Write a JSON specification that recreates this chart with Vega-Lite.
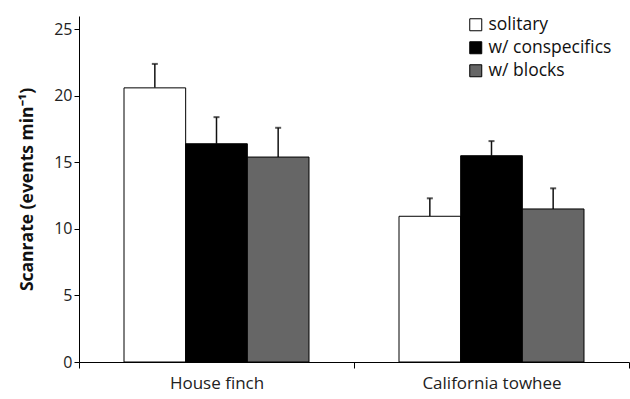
{
  "$schema": "https://vega.github.io/schema/vega-lite/v6.json",
  "autosize": {"type": "none"},
  "width": 550,
  "height": 346,
  "padding": {"left": 79, "top": 16, "right": 1, "bottom": 37},
  "config": {
    "font": "Open Sans",
    "view": {"stroke": null},
    "axis": {"labelColor": "#222", "titleColor": "#111", "domainColor": "#000", "tickColor": "#000", "grid": false}
  },
  "data": {
    "values": [
      {"species": "House finch", "condition": "solitary", "mean": 20.6, "upper": 22.4},
      {"species": "House finch", "condition": "w/ conspecifics", "mean": 16.4, "upper": 18.4},
      {"species": "House finch", "condition": "w/ blocks", "mean": 15.4, "upper": 17.6},
      {"species": "California towhee", "condition": "solitary", "mean": 10.95, "upper": 12.3},
      {"species": "California towhee", "condition": "w/ conspecifics", "mean": 15.5, "upper": 16.6},
      {"species": "California towhee", "condition": "w/ blocks", "mean": 11.5, "upper": 13.05}
    ]
  },
  "encoding": {
    "x": {
      "field": "species", "type": "nominal", "sort": ["House finch", "California towhee"],
      "scale": {"paddingInner": 0, "paddingOuter": 0},
      "axis": {"title": null, "labelAngle": 0, "labelFontSize": 17, "labelPadding": 7, "tickBand": "extent", "tickSize": 6, "domainWidth": 1}
    },
    "xOffset": {
      "field": "condition", "type": "nominal", "sort": ["solitary", "w/ conspecifics", "w/ blocks"],
      "scale": {"paddingInner": 0, "paddingOuter": 0.73}
    }
  },
  "layer": [
    {
      "mark": {"type": "rule", "strokeWidth": 1.5, "color": "#111"},
      "encoding": {
        "y": {"field": "mean", "type": "quantitative"},
        "y2": {"field": "upper"}
      }
    },
    {
      "mark": {"type": "tick", "orient": "horizontal", "size": 6, "thickness": 2, "color": "#111"},
      "encoding": {
        "y": {"field": "upper", "type": "quantitative"}
      }
    },
    {
      "mark": {"type": "bar", "stroke": "#000", "strokeWidth": 1},
      "encoding": {
        "y": {
          "field": "mean", "type": "quantitative",
          "scale": {"domain": [0, 25]},
          "axis": {"values": [0, 5, 10, 15, 20, 25], "title": "Scanrate (events min⁻¹)", "titleFontSize": 17.5, "titleFontWeight": "bold", "titlePadding": 17, "labelFontSize": 16, "tickSize": 5, "labelPadding": 2}
        },
        "fill": {
          "field": "condition", "type": "nominal",
          "sort": ["solitary", "w/ conspecifics", "w/ blocks"],
          "scale": {"domain": ["solitary", "w/ conspecifics", "w/ blocks"], "range": ["#ffffff", "#000000", "#666666"]},
          "legend": {"title": null, "orient": "none", "legendX": 388, "legendY": 0, "symbolType": "square", "symbolSize": 144, "symbolStrokeColor": "#000", "symbolStrokeWidth": 1, "labelFontSize": 17.5, "labelColor": "#111", "labelOffset": 4, "rowPadding": 4, "symbolOpacity": 1}
        }
      }
    }
  ]
}
